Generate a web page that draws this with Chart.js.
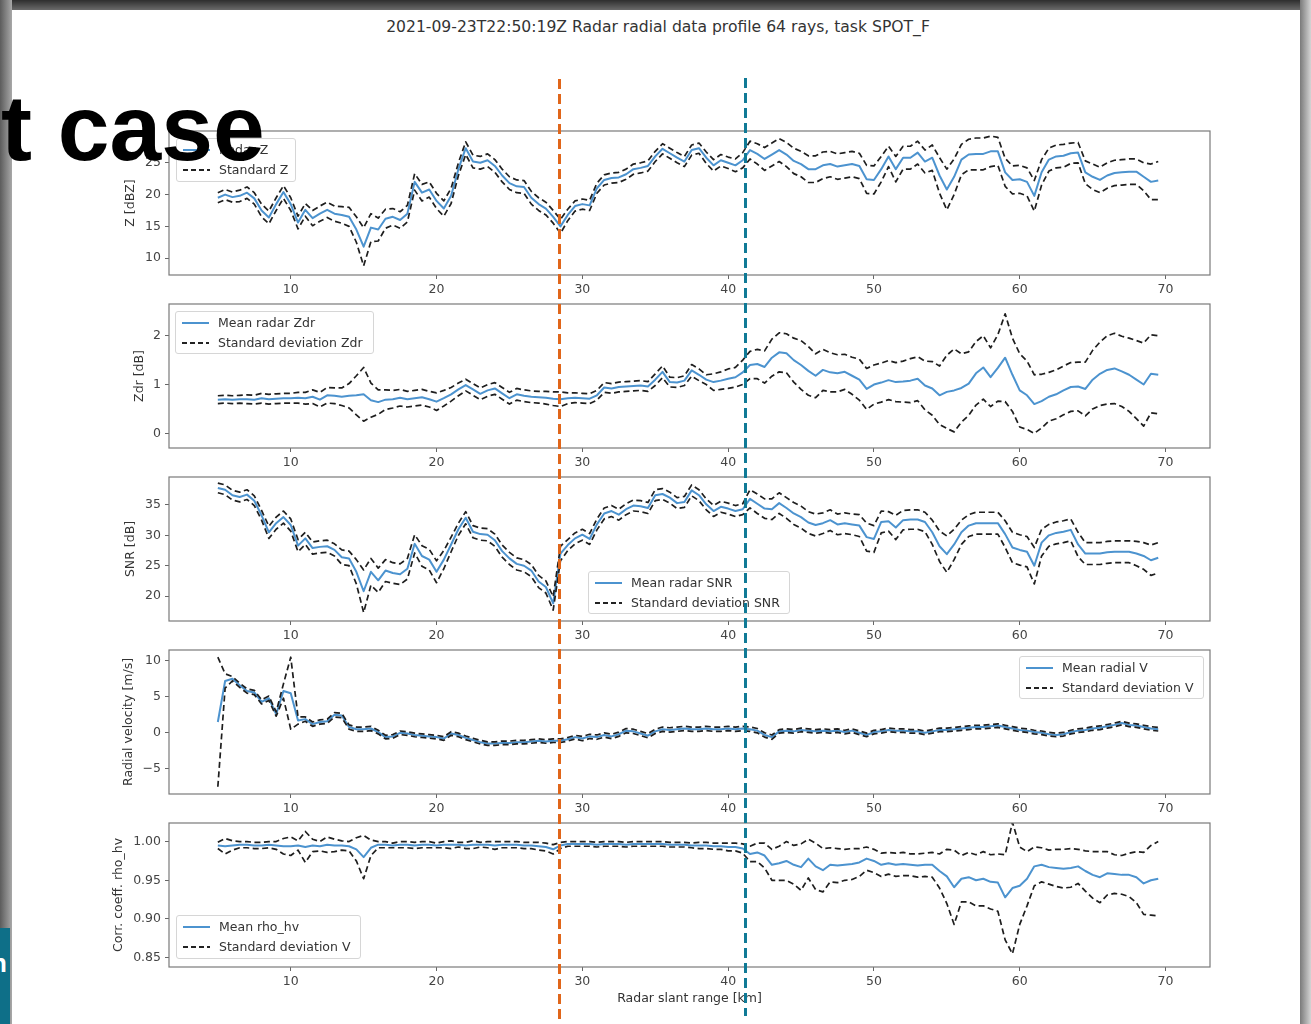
<!DOCTYPE html>
<html>
<head>
<meta charset="utf-8">
<script src="https://cdn.jsdelivr.net/npm/chart.js@4.4.1/dist/chart.umd.min.js"></script>
<style>
  html, body { margin: 0; padding: 0; }
  body { width: 1311px; height: 1024px; position: relative; overflow: hidden; background: #4a4a4a; font-family: "DejaVu Sans", sans-serif; }
  #topband { position: absolute; left: 0; top: 0; width: 1311px; height: 10px; background: linear-gradient(to bottom, #2e2e2e, #6a6a6a); }
  #leftedge { position: absolute; left: 0; top: 0; width: 12px; height: 1024px; background: linear-gradient(to right, #5c5c5c, #a8a8a8); }
  #rightedge { position: absolute; left: 1300px; top: 0; width: 11px; height: 1024px; background: linear-gradient(to right, #7a7a7a, #d4d4d4); }
  #sheet { position: absolute; left: 12px; top: 10px; width: 1288px; height: 1014px; background: #fff; }
  #tealblock { position: absolute; left: 0; top: 928px; width: 10px; height: 96px; background: #0e6f88; overflow: hidden; }
  #tealblock span { position: absolute; left: -9px; top: 20px; color: #fff; font: bold 26px "Liberation Sans", Arial, sans-serif; }
  #suptitle { position: absolute; left: 0; top: 18px; width: 1316px; text-align: center; font-size: 15.6px; color: #333; }
  .legend { position: absolute; background: rgba(255,255,255,0.85); border: 1px solid #d6d6d6; border-radius: 3px; box-sizing: border-box; }
  .legend .sw { position: absolute; left: 6px; width: 27px; height: 2px; }
  .legend .solid { background: #4c93cf; }
  .legend .dash { background: repeating-linear-gradient(to right, #222 0 5px, transparent 5px 8px); }
  .legend .lab { position: absolute; left: 42px; font-size: 12.5px; color: #333; line-height: 16px; white-space: nowrap; }
  .vline { position: absolute; width: 3px; }
  #bigtext { position: absolute; left: 1px; top: 82px; font: bold 93px "Liberation Sans", Arial, sans-serif; line-height: 1; color: #000; white-space: nowrap; }
</style>
</head>
<body>
<div id="topband"></div>
<div id="leftedge"></div>
<div id="rightedge"></div>
<div id="sheet"></div>
<div id="tealblock"><span>n</span></div>
<div id="suptitle">2021-09-23T22:50:19Z Radar radial data profile 64 rays, task SPOT_F</div>

<script>
// range grid, km (0.5 km steps from 5 to 69.5)
const rangeKm = Array.from({ length: 130 }, (_, i) => 5 + i * 0.5);
const xTicks = [10, 20, 30, 40, 50, 60, 70];

// reflectivity Z [dBZ]
const zMean = [
  19.5, 20.0, 19.6, 19.8, 20.3, 19.4, 17.5, 16.4, 18.5, 20.4,
  18.5, 15.6, 17.6, 16.3, 17.0, 17.6, 17.0, 16.8, 16.5, 14.5,
  11.8, 14.8, 14.5, 16.2, 16.5, 16.0, 17.0, 22.0, 20.3, 20.8,
  19.0, 17.8, 19.8, 24.0, 27.3, 25.2, 25.0, 25.4, 24.5, 23.0,
  21.8, 21.3, 21.2, 19.5, 18.5, 17.8, 16.5, 15.0, 16.8, 18.2,
  18.5, 18.3, 21.0, 22.3, 22.6, 22.7, 23.2, 24.0, 24.2, 24.5,
  26.0, 27.2, 26.5, 25.8, 25.2, 27.0, 27.3, 25.8, 24.6, 25.4,
  25.0, 24.6, 25.4, 27.0, 26.4, 25.6, 26.3, 27.0, 26.3, 25.3,
  24.8, 24.0, 24.0, 24.6, 24.8, 24.4, 24.6, 24.8, 24.5, 22.4,
  22.3, 24.0, 26.0, 24.0, 25.8, 25.8, 26.6, 25.2, 25.8, 23.0,
  20.8, 22.8, 25.5, 26.3, 26.4, 26.4, 26.8, 26.8, 23.5, 22.3,
  22.4, 22.0, 19.8, 23.5, 25.5, 26.0, 26.1, 26.5, 26.6, 23.5,
  22.8, 22.3, 23.0, 23.4, 23.5, 23.6, 23.6, 22.8, 22.0, 22.2
];
const zSd = [
  0.8, 0.8, 0.8, 0.9, 0.9, 0.9, 1.0, 1.0, 1.0, 1.0,
  1.0, 1.0, 1.0, 1.2, 1.2, 1.2, 1.2, 1.3, 1.5, 2.0,
  3.0, 2.2, 1.8, 1.5, 1.3, 1.3, 1.3, 1.3, 1.3, 1.2,
  1.2, 1.2, 1.2, 1.0, 1.0, 1.0, 1.0, 1.0, 1.0, 1.0,
  1.0, 1.0, 1.0, 1.0, 1.0, 1.0, 1.0, 1.1, 0.9, 0.8,
  0.8, 0.8, 0.8, 0.8, 0.8, 0.8, 0.8, 0.8, 0.8, 0.8,
  0.8, 0.8, 0.8, 0.8, 0.8, 0.8, 0.8, 0.9, 0.9, 0.9,
  0.9, 1.0, 1.2, 1.4, 1.6, 1.8, 1.8, 1.8, 1.9, 2.0,
  2.0, 2.1, 2.1, 2.1, 2.0, 2.0, 2.0, 2.0, 2.0, 2.2,
  2.2, 2.0, 1.6, 2.0, 1.8, 1.8, 1.8, 1.8, 2.0, 2.8,
  3.2, 2.8, 2.4, 2.4, 2.5, 2.5, 2.4, 2.2, 2.2, 2.2,
  2.2, 2.2, 2.4, 2.0, 1.8, 1.8, 1.8, 1.6, 1.6, 1.8,
  2.0, 2.0, 2.0, 2.0, 2.0, 2.0, 2.0, 2.2, 2.8, 3.0
];

// differential reflectivity Zdr [dB]
const zdrMean = [
  0.69, 0.70, 0.69, 0.70, 0.70, 0.69, 0.72, 0.70, 0.71, 0.72,
  0.72, 0.73, 0.72, 0.75, 0.69, 0.78, 0.77, 0.75, 0.77, 0.78,
  0.80, 0.68, 0.64, 0.69, 0.70, 0.73, 0.70, 0.72, 0.74, 0.70,
  0.65, 0.72, 0.80, 0.90, 0.99, 0.90, 0.81, 0.88, 0.92, 0.82,
  0.72, 0.80, 0.77, 0.75, 0.74, 0.73, 0.71, 0.70, 0.72, 0.73,
  0.72, 0.71, 0.78, 0.94, 0.92, 0.95, 0.96, 0.97, 0.98, 0.96,
  1.10, 1.26, 1.05, 1.04, 1.08, 1.29, 1.20, 1.10, 1.05, 1.08,
  1.12, 1.15, 1.25, 1.40, 1.42, 1.36, 1.55, 1.66, 1.64, 1.50,
  1.40, 1.28, 1.18, 1.30, 1.25, 1.23, 1.26, 1.18, 1.10, 0.91,
  1.00, 1.04, 1.09, 1.05, 1.06, 1.08, 1.12, 0.98, 0.92, 0.78,
  0.85, 0.88, 0.93, 1.02, 1.23, 1.35, 1.15, 1.34, 1.55, 1.20,
  0.88, 0.78, 0.60, 0.66, 0.75, 0.80, 0.88, 0.95, 0.96, 0.91,
  1.10, 1.22, 1.30, 1.33, 1.27, 1.20, 1.10, 1.00, 1.22, 1.20
];
const zdrSd = [
  0.08, 0.08, 0.08, 0.08, 0.09, 0.09, 0.10, 0.10, 0.10, 0.10,
  0.10, 0.11, 0.12, 0.14, 0.15, 0.16, 0.16, 0.18, 0.25, 0.40,
  0.55, 0.35, 0.25, 0.20, 0.18, 0.17, 0.16, 0.16, 0.16, 0.16,
  0.18, 0.16, 0.14, 0.13, 0.12, 0.12, 0.12, 0.12, 0.12, 0.12,
  0.12, 0.12, 0.12, 0.12, 0.12, 0.13, 0.14, 0.15, 0.11, 0.10,
  0.10, 0.10, 0.10, 0.10, 0.10, 0.10, 0.10, 0.10, 0.10, 0.10,
  0.12, 0.12, 0.10, 0.10, 0.10, 0.12, 0.12, 0.10, 0.17, 0.18,
  0.20, 0.20, 0.25, 0.28, 0.30, 0.33, 0.38, 0.40, 0.40, 0.45,
  0.50, 0.50, 0.45, 0.42, 0.40, 0.38, 0.36, 0.38, 0.42, 0.42,
  0.40, 0.40, 0.40, 0.40, 0.42, 0.45, 0.45, 0.50, 0.55, 0.60,
  0.75, 0.85, 0.70, 0.65, 0.65, 0.65, 0.60, 0.68, 0.90, 0.75,
  0.75, 0.70, 0.60, 0.55, 0.50, 0.50, 0.50, 0.50, 0.50, 0.55,
  0.60, 0.65, 0.70, 0.72, 0.72, 0.75, 0.80, 0.85, 0.80, 0.80
];

// signal to noise ratio [dB]
const snrMean = [
  37.8, 37.5, 36.6, 36.3, 36.7, 35.7, 33.3, 30.5, 32.0, 33.0,
  31.7, 28.3, 29.5, 27.9, 28.1, 28.2, 27.6, 26.4, 26.2, 24.0,
  20.8, 24.0, 22.6, 24.2, 23.8, 23.6, 24.5, 28.6, 26.6, 26.0,
  24.0, 26.0, 28.5, 31.0, 32.9, 30.6, 30.2, 30.1, 29.2, 27.4,
  26.2, 25.3, 25.0, 24.2, 22.4, 21.5, 18.8, 27.0, 28.4, 29.5,
  30.1, 29.4, 31.8, 33.6, 34.0, 33.4, 34.3, 34.9, 34.8, 34.5,
  36.6, 36.8, 36.2, 35.3, 35.5, 37.4, 36.6, 35.1, 34.0, 34.7,
  34.4, 34.0, 34.3, 36.0, 35.2, 34.4, 34.3, 35.3, 34.5, 33.6,
  33.0, 32.1, 31.7, 32.0, 32.5, 31.8, 32.0, 31.8, 31.6, 29.7,
  29.4, 32.2, 32.3, 31.3, 32.5, 32.6, 32.6, 32.2, 30.5, 28.2,
  26.9, 28.5, 30.5, 31.6, 32.0, 32.0, 32.0, 32.0, 30.2, 28.0,
  27.6, 27.3, 25.0, 28.8, 30.0, 30.4, 30.6, 30.9, 28.5, 27.0,
  27.0, 27.0, 27.2, 27.3, 27.3, 27.3, 27.0, 26.6, 25.9, 26.3
];
const snrSd = [
  0.8, 0.8, 0.8, 0.8, 0.8, 0.8, 0.8, 1.0, 1.0, 1.0,
  1.0, 1.0, 1.0, 1.0, 1.0, 1.0, 1.0, 1.2, 1.2, 2.0,
  3.5, 2.2, 2.0, 1.8, 1.7, 1.7, 1.7, 1.5, 1.7, 1.7,
  1.8, 1.5, 1.2, 1.0, 1.0, 1.0, 1.0, 1.0, 1.0, 1.0,
  1.0, 1.0, 1.0, 1.0, 1.0, 1.0, 1.1, 1.2, 0.9, 0.9,
  0.9, 0.9, 0.9, 0.9, 0.9, 0.9, 0.9, 0.9, 0.9, 0.9,
  0.9, 0.9, 0.9, 0.9, 0.9, 0.9, 0.9, 0.9, 0.9, 0.9,
  0.9, 0.9, 0.9, 1.5, 1.6, 1.6, 1.7, 1.7, 1.7, 1.8,
  1.8, 1.8, 1.8, 1.7, 1.7, 1.7, 1.7, 1.7, 1.8, 2.3,
  2.2, 1.8, 1.6, 2.0, 1.6, 1.6, 1.6, 1.6, 2.0, 2.5,
  3.0, 2.5, 2.0, 1.8, 1.8, 1.8, 1.8, 1.8, 2.2, 2.5,
  2.5, 2.5, 3.0, 2.2, 1.8, 1.8, 1.8, 1.8, 2.0, 1.8,
  1.8, 1.8, 1.8, 1.8, 1.8, 1.8, 2.0, 2.2, 2.5, 2.5
];

// radial velocity [m/s]
const velMean = [
  1.5, 7.2, 7.5, 6.6, 5.8, 5.6, 4.3, 4.8, 2.6, 5.8,
  5.5, 1.7, 1.9, 1.2, 1.5, 1.6, 2.5, 2.4, 0.8, 0.5,
  0.5, 0.6, 0.1, -0.6, -0.5, 0.0, -0.1, -0.3, -0.4, -0.5,
  -0.6, -0.8, -0.1, -0.3, -0.7, -1.0, -1.3, -1.5, -1.5, -1.4,
  -1.4, -1.3, -1.3, -1.2, -1.1, -1.2, -1.1, -1.1, -0.9, -0.6,
  -0.8, -0.5, -0.6, -0.3, -0.5, -0.2, 0.3, 0.2, -0.1, -0.4,
  0.2, 0.5, 0.4, 0.5, 0.6, 0.5, 0.5, 0.6, 0.5, 0.5,
  0.6, 0.5, 0.6, 0.5, 0.3, -0.3, -0.6, 0.2, 0.3, 0.2,
  0.4, 0.3, 0.2, 0.3, 0.2, 0.3, 0.1, 0.3, 0.0, -0.3,
  0.1, 0.2, 0.4, 0.3, 0.3, 0.2, 0.2, 0.0, 0.2, 0.4,
  0.4, 0.5, 0.6, 0.7, 0.8, 0.8, 0.9, 1.0, 0.8, 0.6,
  0.4, 0.3, 0.1, 0.0, -0.2, -0.3, -0.2, 0.1, 0.3, 0.4,
  0.6, 0.7, 0.9, 1.1, 1.35, 1.1, 1.0, 0.8, 0.6, 0.5
];
const velSd = [
  9.0, 1.0, 0.3, 0.3, 0.3, 0.3, 0.3, 0.3, 0.3, 1.0,
  5.0, 0.5, 0.3, 0.3, 0.3, 0.3, 0.3, 0.3, 0.3, 0.3,
  0.3, 0.3, 0.25, 0.25, 0.25, 0.25, 0.25, 0.25, 0.25, 0.25,
  0.25, 0.25, 0.25, 0.25, 0.25, 0.25, 0.25, 0.25, 0.25, 0.25,
  0.25, 0.25, 0.25, 0.25, 0.25, 0.25, 0.25, 0.25, 0.25, 0.25,
  0.3, 0.3, 0.3, 0.3, 0.3, 0.3, 0.3, 0.3, 0.3, 0.3,
  0.3, 0.3, 0.3, 0.3, 0.3, 0.3, 0.3, 0.3, 0.3, 0.3,
  0.3, 0.3, 0.3, 0.3, 0.3, 0.3, 0.3, 0.25, 0.25, 0.25,
  0.25, 0.25, 0.25, 0.25, 0.25, 0.25, 0.25, 0.25, 0.25, 0.25,
  0.25, 0.25, 0.25, 0.25, 0.25, 0.25, 0.25, 0.25, 0.25, 0.25,
  0.25, 0.25, 0.25, 0.25, 0.25, 0.25, 0.25, 0.25, 0.25, 0.25,
  0.25, 0.25, 0.25, 0.25, 0.25, 0.25, 0.25, 0.25, 0.25, 0.25,
  0.25, 0.25, 0.25, 0.25, 0.25, 0.25, 0.25, 0.25, 0.25, 0.25
];

// correlation coefficient rho_hv
const rhoMean = [
  0.995, 0.994, 0.995, 0.996, 0.996, 0.995, 0.995, 0.996, 0.995, 0.994,
  0.994, 0.995, 0.993, 0.995, 0.994, 0.996, 0.995, 0.995, 0.994, 0.990,
  0.980, 0.992, 0.996, 0.996, 0.995, 0.996, 0.996, 0.995, 0.996, 0.996,
  0.995, 0.996, 0.996, 0.996, 0.995, 0.996, 0.996, 0.996, 0.995, 0.996,
  0.996, 0.996, 0.995, 0.995, 0.994, 0.993, 0.990, 0.995, 0.997, 0.997,
  0.997, 0.997, 0.996, 0.997, 0.997, 0.997, 0.996, 0.997, 0.997, 0.997,
  0.997, 0.997, 0.996, 0.996, 0.996, 0.995, 0.995, 0.995, 0.994, 0.994,
  0.993, 0.993, 0.991, 0.984, 0.986, 0.982, 0.970, 0.972, 0.975, 0.970,
  0.967, 0.978, 0.968, 0.963, 0.970, 0.969, 0.970, 0.971, 0.973, 0.978,
  0.975, 0.970, 0.972, 0.970, 0.971, 0.970, 0.969, 0.970, 0.970, 0.962,
  0.955, 0.941, 0.952, 0.954, 0.950, 0.952, 0.948, 0.947, 0.928, 0.940,
  0.943, 0.952, 0.968, 0.970, 0.967, 0.966, 0.965, 0.966, 0.968, 0.962,
  0.957, 0.954, 0.959, 0.958, 0.957, 0.957, 0.954, 0.946, 0.950, 0.952
];
const rhoSd = [
  0.004, 0.010, 0.006, 0.004, 0.004, 0.004, 0.004, 0.004, 0.005, 0.010,
  0.012, 0.006, 0.020, 0.008, 0.006, 0.010, 0.008, 0.006, 0.006, 0.015,
  0.028, 0.010, 0.004, 0.004, 0.003, 0.004, 0.004, 0.004, 0.004, 0.004,
  0.003, 0.004, 0.005, 0.003, 0.004, 0.005, 0.003, 0.004, 0.005, 0.004,
  0.004, 0.004, 0.004, 0.004, 0.005, 0.005, 0.006, 0.004, 0.003, 0.003,
  0.003, 0.003, 0.003, 0.003, 0.003, 0.003, 0.003, 0.003, 0.003, 0.003,
  0.003, 0.003, 0.003, 0.003, 0.003, 0.003, 0.004, 0.004, 0.004, 0.004,
  0.005, 0.005, 0.006, 0.010, 0.012, 0.016, 0.020, 0.022, 0.025, 0.025,
  0.030, 0.025, 0.030, 0.028, 0.022, 0.022, 0.020, 0.020, 0.018, 0.015,
  0.015, 0.015, 0.014, 0.015, 0.015, 0.014, 0.015, 0.015, 0.016, 0.022,
  0.035, 0.048, 0.030, 0.032, 0.033, 0.035, 0.035, 0.037, 0.055, 0.085,
  0.050, 0.035, 0.025, 0.022, 0.022, 0.024, 0.025, 0.025, 0.022, 0.026,
  0.030, 0.033, 0.028, 0.025, 0.025, 0.028, 0.033, 0.040, 0.045, 0.048
];

// legend texts
const zLegend = ['Radar Z', 'Standard Z'];
const zdrLegend = ['Mean radar Zdr', 'Standard deviation Zdr'];
const snrLegend = ['Mean radar SNR', 'Standard deviation SNR'];
const velLegend = ['Mean radial V', 'Standard deviation V'];
const rhoLegend = ['Mean rho_hv', 'Standard deviation V'];

const meanColor = '#4c93cf';
const dashColor = '#1e1e1e';
const tickFont = { family: 'DejaVu Sans', size: 12.5 };

const minusFmt = v => (v < 0 ? '\u2212' + Math.abs(v) : String(v));

const panels = [
  { top: 131, labelX: 130, min: 7.35, max: 30.0, yTicks: [10, 15, 20, 25], title: 'Z [dBZ]', mean: zMean, sd: zSd, fmt: minusFmt,
    legend: zLegend, lg: [176, 138, 120, 44] },
  { top: 304, labelX: 139, min: -0.30, max: 2.65, yTicks: [0, 1, 2], title: 'Zdr [dB]', mean: zdrMean, sd: zdrSd, fmt: minusFmt,
    legend: zdrLegend, lg: [175, 311, 199, 43] },
  { top: 477, labelX: 130, min: 15.9, max: 39.6, yTicks: [20, 25, 30, 35], title: 'SNR [dB]', mean: snrMean, sd: snrSd, fmt: minusFmt,
    legend: snrLegend, lg: [588, 571, 202, 43] },
  { top: 650, labelX: 128, min: -8.5, max: 11.5, yTicks: [-5, 0, 5, 10], title: 'Radial velocity [m/s]', mean: velMean, sd: velSd, fmt: minusFmt,
    legend: velLegend, lg: [1019, 656, 185, 43] },
  { top: 823, labelX: 118, min: 0.838, max: 1.024, yTicks: [0.85, 0.90, 0.95, 1.00], title: 'Corr. coeff. rho_hv', mean: rhoMean, sd: rhoSd,
    fmt: v => v.toFixed(2), legend: rhoLegend, lg: [176, 915, 185, 44], xTitle: 'Radar slant range [km]' }
];

const framePlugin = {
  id: 'frame',
  afterDraw(chart) {
    const a = chart.chartArea, ctx = chart.ctx;
    ctx.save();
    ctx.strokeStyle = '#7a7a7a';
    ctx.lineWidth = 1.2;
    ctx.strokeRect(a.left, a.top, a.right - a.left, a.bottom - a.top);
    ctx.restore();
  }
};

function pts(vals) {
  return rangeKm.map((x, i) => ({ x: x, y: vals[i] }));
}

function addLegend(lg, labels) {
  const box = document.createElement('div');
  box.className = 'legend';
  box.style.cssText = `left:${lg[0]}px;top:${lg[1]}px;width:${lg[2]}px;height:${lg[3]}px`;
  labels.forEach((txt, i) => {
    const cy = 11 + i * 19.5;
    const sw = document.createElement('div');
    sw.className = 'sw ' + (i === 0 ? 'solid' : 'dash');
    sw.style.top = (cy - 1) + 'px';
    const lab = document.createElement('div');
    lab.className = 'lab';
    lab.style.top = (cy - 8) + 'px';
    lab.textContent = txt;
    box.appendChild(sw);
    box.appendChild(lab);
  });
  document.body.appendChild(box);
}

panels.forEach(p => {
  const left = Math.round(p.labelX - 7.5);
  const xH = p.xTitle ? 39 : 22;
  const w = 1220 - left, h = 6 + 144 + xH;
  const cv = document.createElement('canvas');
  cv.width = w;
  cv.height = h;
  cv.style.cssText = `position:absolute;left:${left}px;top:${p.top - 6}px;width:${w}px;height:${h}px`;
  document.body.appendChild(cv);

  const upper = p.mean.map((m, i) => m + p.sd[i]);
  const lower = p.mean.map((m, i) => m - p.sd[i]);
  const dashed = { borderColor: dashColor, borderWidth: 1.7, borderDash: [6, 3.5] };

  new Chart(cv, {
    type: 'line',
    data: {
      datasets: [
        Object.assign({ data: pts(upper) }, dashed),
        Object.assign({ data: pts(lower) }, dashed),
        { data: pts(p.mean), borderColor: meanColor, borderWidth: 2 }
      ]
    },
    options: {
      responsive: false,
      animation: false,
      devicePixelRatio: 1,
      layout: { padding: { top: 6, right: 10, bottom: 0, left: 0 } },
      elements: { point: { radius: 0 }, line: { tension: 0, borderJoinStyle: 'round' } },
      plugins: { legend: { display: false }, tooltip: { enabled: false } },
      scales: {
        x: {
          type: 'linear', min: 1.65, max: 73.05,
          afterBuildTicks: s => { s.ticks = xTicks.map(v => ({ value: v })); },
          afterFit: s => { s.height = xH; s.paddingLeft = 0; s.paddingRight = 0; },
          ticks: { font: tickFont, color: '#444', padding: 3, maxRotation: 0 },
          grid: { drawOnChartArea: false, drawTicks: true, tickLength: 4, color: '#666' },
          border: { display: false },
          title: { display: !!p.xTitle, text: p.xTitle || '', font: tickFont, color: '#333', padding: 0 }
        },
        y: {
          min: p.min, max: p.max,
          afterBuildTicks: s => { s.ticks = p.yTicks.map(v => ({ value: v })); },
          afterFit: s => { s.width = 169 - left; s.paddingTop = 0; s.paddingBottom = 0; },
          ticks: { font: tickFont, color: '#444', padding: 4, callback: v => p.fmt(v) },
          grid: { drawOnChartArea: false, drawTicks: true, tickLength: 4, color: '#666' },
          border: { display: false },
          title: { display: true, text: p.title, font: tickFont, color: '#333', padding: 0 }
        }
      }
    },
    plugins: [framePlugin]
  });

  addLegend(p.lg, p.legend);
});
</script>

<div class="vline" style="left:558px;top:79px;height:941px;background:repeating-linear-gradient(to bottom,#e0661a 0 10px,transparent 10px 15px)"></div>
<div class="vline" style="left:744px;top:78px;height:938px;background:repeating-linear-gradient(to bottom,#107a96 0 10px,transparent 10px 15px)"></div>
<div id="bigtext">t case</div>
</body>
</html>
